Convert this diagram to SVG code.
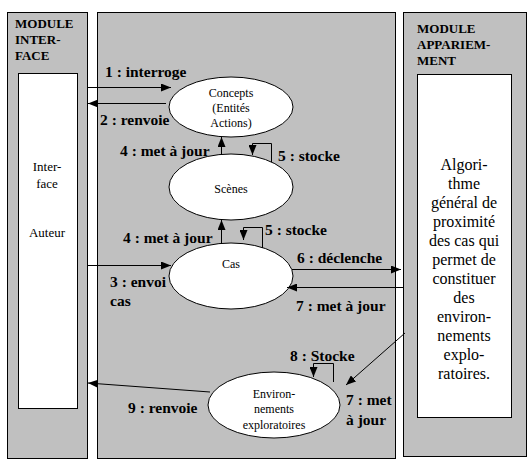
<svg xmlns="http://www.w3.org/2000/svg" width="532" height="466" viewBox="0 0 532 466">
<defs>
<marker id="ah" viewBox="0 0 10 8" refX="10" refY="4" markerWidth="10" markerHeight="8" markerUnits="userSpaceOnUse" orient="auto">
<path d="M0,0 L10,4 L0,8 Z" fill="#000"/>
</marker>
</defs>
<style>
.panel{fill:#c0c0c0;stroke:#000;stroke-width:1}
.box{fill:#fff;stroke:#000;stroke-width:1}
.ell{fill:#fff;stroke:#000;stroke-width:1}
text{font-family:'Liberation Serif','DejaVu Serif','Times New Roman',serif}
.title{font-weight:bold;font-size:13px}
.lbl{font-weight:bold;font-size:15.5px}
.txt{font-size:12px;text-anchor:middle}
.side{font-size:13px;text-anchor:middle}
.big{font-size:16px;text-anchor:middle}
.cn{fill:none;stroke:#000;stroke-width:1}
</style>
<rect width="532" height="466" fill="#fff"/>
<g id="module-interface">
<rect class="panel" x="7.5" y="12.5" width="80" height="446"/>
<text class="title" x="15" y="28">MODULE</text>
<text class="title" x="15" y="44">INTER-</text>
<text class="title" x="15" y="60">FACE</text>
<rect class="box" x="18.5" y="73.5" width="59" height="335"/>
<text class="side" x="47" y="171">Inter-</text>
<text class="side" x="47" y="188">face</text>
<text class="side" x="47" y="237">Auteur</text>
</g>
<g id="module-central">
<rect class="panel" x="97.5" y="12.5" width="298" height="446"/>
</g>
<g id="module-appariement">
<rect class="panel" x="403.5" y="12.5" width="123" height="444"/>
<text class="title" x="417" y="33">MODULE</text>
<text class="title" x="417" y="49">APPARIEM-</text>
<text class="title" x="417" y="65">MENT</text>
<rect class="box" x="417.5" y="74.5" width="94" height="343"/>
<text class="big" x="464" y="170">Algori-</text>
<text class="big" x="464" y="189">thme</text>
<text class="big" x="464" y="208">général de</text>
<text class="big" x="464" y="227">proximité</text>
<text class="big" x="464" y="246">des cas qui</text>
<text class="big" x="464" y="265">permet de</text>
<text class="big" x="464" y="284">constituer</text>
<text class="big" x="464" y="303">des</text>
<text class="big" x="464" y="322">environ-</text>
<text class="big" x="464" y="341">nements</text>
<text class="big" x="464" y="360">explo-</text>
<text class="big" x="464" y="379">ratoires.</text>
</g>
<g id="concepts">
<ellipse class="ell" cx="231" cy="107" rx="62" ry="30"/>
<text class="txt" x="231" y="97">Concepts</text>
<text class="txt" x="231" y="112">(Entités</text>
<text class="txt" x="231" y="127">Actions)</text>
</g>
<g id="scenes">
<ellipse class="ell" cx="231" cy="187" rx="62" ry="33"/>
<text class="txt" x="231" y="193">Scènes</text>
</g>
<g id="cas">
<ellipse class="ell" cx="231" cy="276" rx="62" ry="33"/>
<text class="txt" x="231" y="268">Cas</text>
</g>
<g id="environnements">
<ellipse class="ell" cx="274" cy="405" rx="66" ry="33"/>
<text class="txt" x="274" y="398">Environ-</text>
<text class="txt" x="274" y="413">nements</text>
<text class="txt" x="274" y="429">exploratoires</text>
</g>
<g id="connectors">
<line class="cn" x1="87" y1="87.5" x2="171" y2="87.5" marker-end="url(#ah)"/>
<line class="cn" x1="166" y1="103.5" x2="88" y2="103.5" marker-end="url(#ah)"/>
<line class="cn" x1="221.5" y1="154" x2="221.5" y2="137" marker-end="url(#ah)"/>
<polyline class="cn" points="271.5,162 271.5,143.5 252.5,143.5 252.5,155" marker-end="url(#ah)"/>
<line class="cn" x1="221.5" y1="243" x2="221.5" y2="220" marker-end="url(#ah)"/>
<polyline class="cn" points="262.5,248 262.5,227.5 243.5,227.5 243.5,240" marker-end="url(#ah)"/>
<line class="cn" x1="87" y1="265.5" x2="171" y2="265.5" marker-end="url(#ah)"/>
<line class="cn" x1="292" y1="269.5" x2="401" y2="269.5" marker-end="url(#ah)"/>
<line class="cn" x1="403" y1="287.5" x2="287" y2="287.5" marker-end="url(#ah)"/>
<line class="cn" x1="405" y1="333" x2="346" y2="385" marker-end="url(#ah)"/>
<polyline class="cn" points="333.5,382 333.5,363.5 313.5,363.5 313.5,377" marker-end="url(#ah)"/>
<line class="cn" x1="210" y1="392" x2="88" y2="383" marker-end="url(#ah)"/>
</g>
<g id="labels">
<text class="lbl" x="105" y="77">1 : interroge</text>
<text class="lbl" x="100" y="125">2 : renvoie</text>
<text class="lbl" x="120" y="156">4 : met à jour</text>
<text class="lbl" x="278" y="161">5 : stocke</text>
<text class="lbl" x="123" y="243">4 : met à jour</text>
<text class="lbl" x="265" y="235">5 : stocke</text>
<text class="lbl" x="110" y="287">3 : envoi</text>
<text class="lbl" x="110" y="306">cas</text>
<text class="lbl" x="297" y="263">6 : déclenche</text>
<text class="lbl" x="296" y="311">7 : met à jour</text>
<text class="lbl" x="290" y="361">8 : Stocke</text>
<text class="lbl" x="346" y="405">7 : met</text>
<text class="lbl" x="346" y="425">à jour</text>
<text class="lbl" x="128" y="413">9 : renvoie</text>
</g>
</svg>
